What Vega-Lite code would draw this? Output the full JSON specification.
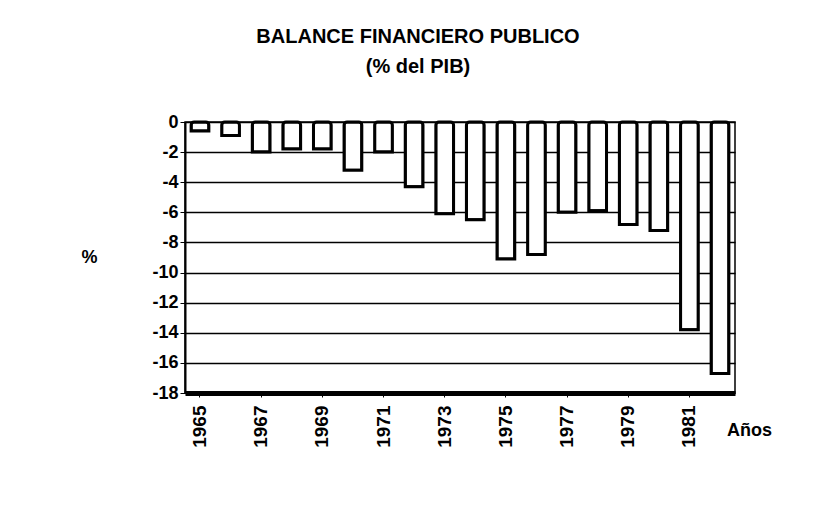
{
  "$schema": "https://vega.github.io/schema/vega-lite/v6.json",
  "autosize": "none",
  "width": 550,
  "height": 271,
  "padding": {"left": 185, "top": 122, "right": 82, "bottom": 113},
  "background": "white",
  "config": {
    "font": "Liberation Sans",
    "view": {"stroke": "black", "strokeWidth": 1.5}
  },
  "title": {
    "text": ["BALANCE FINANCIERO PUBLICO", "(% del PIB)"],
    "fontSize": 20,
    "fontWeight": "bold",
    "color": "black",
    "lineHeight": 30,
    "anchor": "middle",
    "dx": -42,
    "offset": 36
  },
  "data": {
    "values": [
      {"year": "1965", "value": -0.6},
      {"year": "1966", "value": -0.9},
      {"year": "1967", "value": -2.0},
      {"year": "1968", "value": -1.8},
      {"year": "1969", "value": -1.8},
      {"year": "1970", "value": -3.2},
      {"year": "1971", "value": -2.0},
      {"year": "1972", "value": -4.3},
      {"year": "1973", "value": -6.1},
      {"year": "1974", "value": -6.5},
      {"year": "1975", "value": -9.1},
      {"year": "1976", "value": -8.8},
      {"year": "1977", "value": -6.0},
      {"year": "1978", "value": -5.9},
      {"year": "1979", "value": -6.8},
      {"year": "1980", "value": -7.2},
      {"year": "1981", "value": -13.8},
      {"year": "1982", "value": -16.7}
    ]
  },
  "mark": {
    "type": "bar",
    "fill": "white",
    "stroke": "black",
    "strokeWidth": 3,
    "cornerRadiusEnd": 3
  },
  "encoding": {
    "x": {
      "field": "year",
      "type": "ordinal",
      "scale": {"paddingInner": 0.42, "paddingOuter": 0.2},
      "axis": {
        "values": ["1965", "1967", "1969", "1971", "1973", "1975", "1977", "1979", "1981"],
        "labelAngle": -90,
        "labelAlign": "right",
        "labelBaseline": "middle",
        "labelFontSize": 19,
        "labelFontWeight": "bold",
        "labelColor": "black",
        "labelPadding": 8,
        "domainColor": "black",
        "domainWidth": 5,
        "tickColor": "black",
        "tickSize": 4,
        "title": "Años",
        "titleFontSize": 18,
        "titleFontWeight": "bold",
        "titleColor": "black",
        "titleAngle": 0,
        "titleAlign": "center",
        "titleBaseline": "middle",
        "titleX": 564,
        "titleY": 37
      }
    },
    "y": {
      "field": "value",
      "type": "quantitative",
      "scale": {"domain": [-18, 0], "nice": false},
      "axis": {
        "values": [0, -2, -4, -6, -8, -10, -12, -14, -16, -18],
        "labelExpr": "'' + datum.value",
        "labelFontSize": 18,
        "labelFontWeight": "bold",
        "labelColor": "black",
        "labelPadding": 2,
        "domainColor": "black",
        "domainWidth": 2,
        "tickColor": "black",
        "tickSize": 5,
        "grid": true,
        "gridColor": "black",
        "gridWidth": 1.5,
        "title": "%",
        "titleFontSize": 18,
        "titleFontWeight": "bold",
        "titleColor": "black",
        "titleAngle": 0,
        "titleAlign": "center",
        "titleBaseline": "middle",
        "titleX": -96,
        "titleY": 135
      }
    }
  }
}
